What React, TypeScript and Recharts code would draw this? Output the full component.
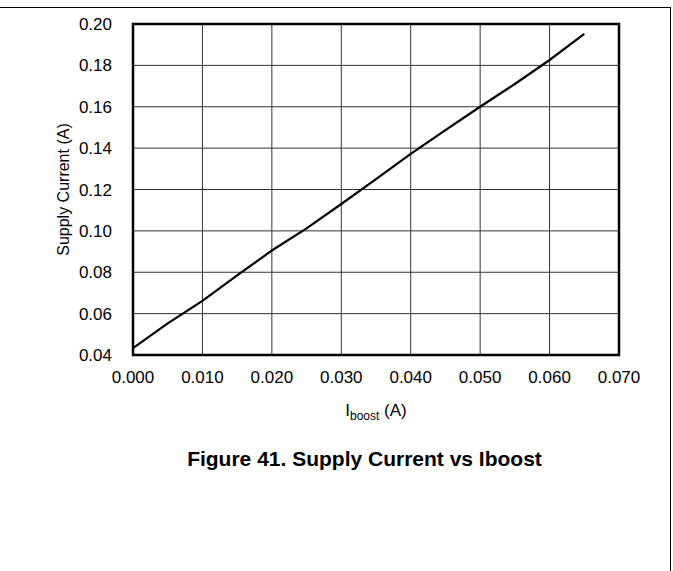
import { LineChart, Line, XAxis, YAxis, CartesianGrid, ReferenceArea } from 'recharts'

// Iboost (A) vs supply current (A)
const iboost = [0, 0.005, 0.01, 0.015, 0.02, 0.025, 0.03, 0.035, 0.04, 0.045, 0.05, 0.055, 0.06, 0.065]
const supply = [0.0433, 0.0553, 0.0662, 0.0785, 0.0905, 0.1012, 0.113, 0.125, 0.1372, 0.1487, 0.16, 0.171, 0.1826, 0.1952]
const xTicks = [0, 0.01, 0.02, 0.03, 0.04, 0.05, 0.06, 0.07]
const yTicks = [0.04, 0.06, 0.08, 0.1, 0.12, 0.14, 0.16, 0.18, 0.2]

const data = iboost.map((x, i) => ({ x, y: supply[i] }))

const font = 'Arial, "Liberation Sans", Helvetica, sans-serif'

const XLabel = ({ viewBox }: any) => {
  const cx = viewBox.x + viewBox.width / 2
  return (
    <text x={cx} y={416} textAnchor="middle" fontFamily={font} fontSize={17} fill="#000">
      <tspan>I</tspan>
      <tspan fontSize={12} dy={4}>boost</tspan>
      <tspan dy={-4}> (A)</tspan>
    </text>
  )
}

export default function App() {
  return (
    <div style={{ position: 'absolute', left: 0, top: 0, width: 673, height: 571, background: '#fff', fontFamily: font }}>
      <div style={{ position: 'absolute', left: -2, top: 7, width: 672, height: 580, borderTop: '1.5px solid #000', borderRight: '1.5px solid #000' }} />
      <LineChart width={673} height={571} data={data}
        margin={{ top: 24, right: 54, left: 73, bottom: 186 }}>
        <CartesianGrid stroke="#333" strokeWidth={1} />
        <XAxis dataKey="x" type="number" domain={[0, 0.07]} ticks={xTicks}
          tickFormatter={(v) => v.toFixed(3)} axisLine={false} tickLine={false}
          tickSize={0} tickMargin={16} height={30}
          tick={{ fill: '#000', fontSize: 17, fontFamily: font }}
          label={<XLabel />} />
        <YAxis type="number" domain={[0.04, 0.2]} ticks={yTicks}
          tickFormatter={(v) => v.toFixed(2)} axisLine={false} tickLine={false}
          tickSize={0} tickMargin={21} width={60}
          tick={{ fill: '#000', fontSize: 17, fontFamily: font }}
          label={{ value: 'Supply Current (A)', angle: -90, position: 'insideLeft', offset: -10, style: { textAnchor: 'middle', fill: '#000', fontSize: 16, fontFamily: font } }} />
        <ReferenceArea x1={0} x2={0.07} y1={0.04} y2={0.2} fill="none" stroke="#000" strokeWidth={2.5} ifOverflow="visible" />
        <Line type="linear" dataKey="y" stroke="#000" strokeWidth={2.2} dot={false} isAnimationActive={false} />
      </LineChart>
      <div style={{ position: 'absolute', left: 0, width: 673, top: 447, textAlign: 'center', fontWeight: 'bold', fontSize: 21, color: '#000', paddingLeft: 56, boxSizing: 'border-box' }}>
        Figure 41. Supply Current vs Iboost
      </div>
    </div>
  )
}
